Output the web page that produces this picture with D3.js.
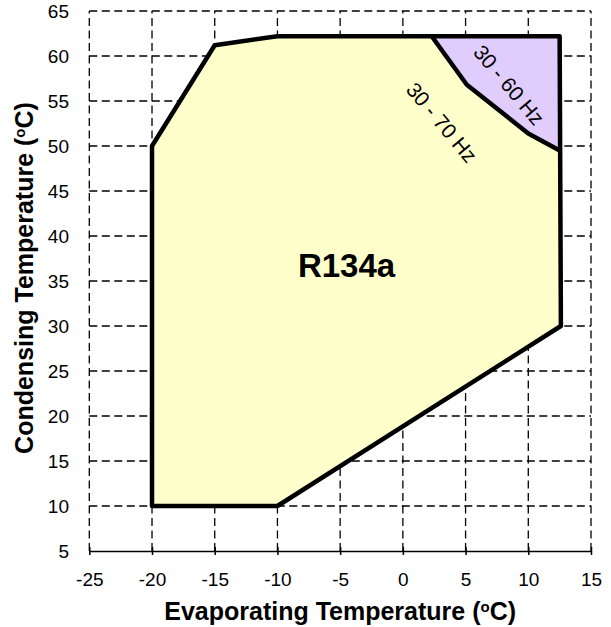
<!DOCTYPE html>
<html>
<head>
<meta charset="utf-8">
<title>R134a envelope</title>
<script src="https://d3js.org/d3.v7.min.js"></script>
<style>
  body { margin: 0; background: #fff; }
  text { font-family: "Liberation Sans", Arial, sans-serif; fill: #000; }
  .grid line { stroke: #000; stroke-width: 1.3; stroke-dasharray: 8,4.5; }
  .axis path, .axis line { stroke: #000; stroke-width: 1.5; }
  .axis text { font-size: 19px; font-family: "Liberation Sans", Arial, sans-serif; }
</style>
</head>
<body>
<div id="chart"></div>
<script>
// axis ticks
var xTicks = [-25, -20, -15, -10, -5, 0, 5, 10, 15];
var yTicks = [5, 10, 15, 20, 25, 30, 35, 40, 45, 50, 55, 60, 65];

// full operating envelope (outer outline)
var envEvap = [-20, -10, 12.6, 12.5, -10, -15, -20];
var envCond = [10, 10, 30, 62.2, 62.2, 61.2, 50];

// 30-70 Hz region
var hz70Evap = [-20, -10, 12.6, 12.5, 10, 5.1, 2.3, -10, -15, -20];
var hz70Cond = [10, 10, 30, 49.5, 51.4, 56.8, 62.2, 62.2, 61.2, 50];

// 30-60 Hz border (from right edge up to top edge)
var hz60Evap = [12.5, 10, 5.1, 2.3];
var hz60Cond = [49.5, 51.4, 56.8, 62.2];

var W = 611, H = 627;
var margin = {top: 11, right: 20, bottom: 76, left: 89.3};

var svg = d3.select("#chart").append("svg").attr("width", W).attr("height", H);

var x = d3.scaleLinear().domain([-25, 15]).range([margin.left, 591]);
var y = d3.scaleLinear().domain([5, 65]).range([551, margin.top]);

function pts(xs, ys) {
  return xs.map(function(d, i) { return [x(d), y(ys[i])]; });
}

// dashed grid
var grid = svg.append("g").attr("class", "grid");
grid.selectAll(".h").data(yTicks.filter(function(d) { return d > 5; }))
  .enter().append("line")
  .attr("x1", x(-25)).attr("x2", x(15))
  .attr("y1", function(d) { return y(d); })
  .attr("y2", function(d) { return y(d); });
grid.selectAll(".v").data(xTicks)
  .enter().append("line")
  .attr("x1", function(d) { return x(d); })
  .attr("x2", function(d) { return x(d); })
  .attr("y1", y(5)).attr("y2", y(65));

// regions
var line = d3.line();
svg.append("path")
  .attr("d", line(pts(envEvap, envCond)) + "Z")
  .attr("fill", "#e0cdfd");
svg.append("path")
  .attr("d", line(pts(hz70Evap, hz70Cond)) + "Z")
  .attr("fill", "#ffffcc");
svg.append("path")
  .attr("d", line(pts(hz60Evap, hz60Cond)))
  .attr("fill", "none").attr("stroke", "#000").attr("stroke-width", 4.5)
  .attr("stroke-linejoin", "round");
svg.append("path")
  .attr("d", line(pts(envEvap, envCond)) + "Z")
  .attr("fill", "none").attr("stroke", "#000").attr("stroke-width", 4.5)
  .attr("stroke-linejoin", "round");

// x axis
var xAxis = svg.append("g").attr("class", "axis")
  .attr("transform", "translate(0," + y(5) + ")")
  .call(d3.axisBottom(x).tickValues(xTicks).tickSize(4).tickSizeOuter(0)
    .tickFormat(function(d) { return String(d); }));
xAxis.selectAll(".tick").append("line").attr("y2", -4);
xAxis.selectAll("text").attr("y", 35).attr("dy", 0);

// y labels
svg.append("g").selectAll("text").data(yTicks)
  .enter().append("text")
  .attr("x", 69).attr("y", function(d) { return y(d) + 7; })
  .attr("text-anchor", "end").style("font-size", "19px")
  .text(function(d) { return d; });

// axis titles
var xt = svg.append("text")
  .attr("x", (x(-25) + x(15)) / 2).attr("y", 620)
  .attr("text-anchor", "middle")
  .style("font-size", "25px").style("font-weight", "bold");
xt.append("tspan").text("Evaporating Temperature (");
xt.append("tspan").attr("dy", -8).style("font-size", "15px").text("o");
xt.append("tspan").attr("dy", 8).text("C)");

var yt = svg.append("text")
  .attr("transform", "translate(33,278) rotate(-90)")
  .attr("text-anchor", "middle")
  .style("font-size", "25px").style("font-weight", "bold");
yt.append("tspan").text("Condensing Temperature (");
yt.append("tspan").attr("dy", -8).style("font-size", "15px").text("o");
yt.append("tspan").attr("dy", 8).text("C)");

// labels
svg.append("text").attr("x", 346.5).attr("y", 277)
  .attr("text-anchor", "middle")
  .style("font-size", "33px").style("font-weight", "bold")
  .text("R134a");

svg.append("text")
  .attr("transform", "translate(441.7,122.5) rotate(50)")
  .attr("text-anchor", "middle").attr("dy", "0.35em")
  .style("font-size", "21px").text("30 - 70 Hz");
svg.append("text")
  .attr("transform", "translate(509,85) rotate(50)")
  .attr("text-anchor", "middle").attr("dy", "0.35em")
  .style("font-size", "21px").text("30 - 60 Hz");
</script>
</body>
</html>
